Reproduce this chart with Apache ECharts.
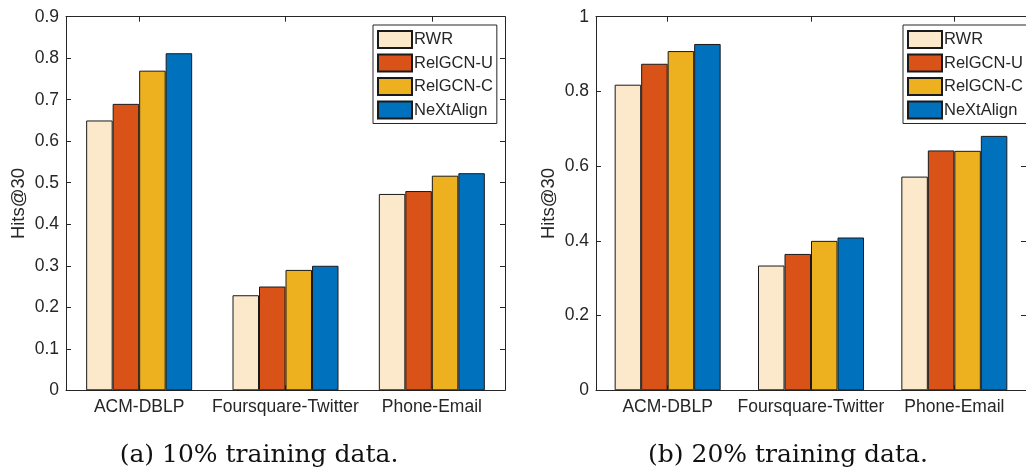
<!DOCTYPE html>
<html>
<head>
<meta charset="utf-8">
<script src="https://cdn.jsdelivr.net/npm/echarts@6/dist/echarts.min.js"></script>
<style>html,body{margin:0;padding:0;background:#fff}#c{width:1026px;height:467px}</style>
</head>
<body>
<div id="c"></div>
<script>
const categories = ['ACM-DBLP', 'Foursquare-Twitter', 'Phone-Email'];
const methods = ['RWR', 'RelGCN-U', 'RelGCN-C', 'NeXtAlign'];
// (a) 10% training data
const rwr10 = [0.65, 0.229, 0.473];
const relgcnU10 = [0.69, 0.25, 0.48];
const relgcnC10 = [0.77, 0.29, 0.517];
const nextalign10 = [0.812, 0.30, 0.523];
// (b) 20% training data
const rwr20 = [0.818, 0.334, 0.572];
const relgcnU20 = [0.874, 0.365, 0.642];
const relgcnC20 = [0.908, 0.40, 0.641];
const nextalign20 = [0.927, 0.409, 0.681];
const captions = ['(a) 10% training data.', '(b) 20% training data.'];

const colors = ['#FCE9CB', '#D95319', '#EDB120', '#0072BD'];
const axisColor = '#262626';
const font = '"Liberation Sans", Arial, Helvetica, sans-serif';

const chart = echarts.init(document.getElementById('c'));
const grids = [
  {left: 66, top: 16.7, width: 439, height: 373.6},
  {left: 596, top: 16.7, width: 439, height: 373.6}
];
function xAxes(gi) {
  const base = {type: 'category', data: categories, gridIndex: gi, boundaryGap: true,
    axisLine: {onZero: false, lineStyle: {color: axisColor, width: 1}},
    axisTick: {show: true, inside: true, length: 5, alignWithLabel: true, interval: 0, lineStyle: {color: axisColor}},
    splitLine: {show: false}};
  return [
    Object.assign({}, base, {position: 'bottom',
      axisLabel: {color: axisColor, fontSize: 17.5, fontFamily: font, margin: 8, interval: 0, hideOverlap: false}}),
    Object.assign({}, base, {position: 'top', axisLabel: {show: false}})
  ];
}
function yAxes(gi, max, interval) {
  const base = {type: 'value', gridIndex: gi, min: 0, max: max, interval: interval,
    axisLine: {show: true, onZero: false, lineStyle: {color: axisColor, width: 1}},
    axisTick: {show: true, inside: true, length: 5, lineStyle: {color: axisColor}},
    splitLine: {show: false}};
  return [
    Object.assign({}, base, {position: 'left', name: 'Hits@30', nameLocation: 'middle',
      nameGap: 38, nameRotate: 90,
      nameTextStyle: {color: axisColor, fontSize: 18.5, fontFamily: font},
      axisLabel: {color: axisColor, fontSize: 17.5, fontFamily: font, margin: 7,
        formatter: v => String(Math.round(v * 10) / 10)}}),
    Object.assign({}, base, {position: 'right', axisLabel: {show: false}})
  ];
}
const data10 = [rwr10, relgcnU10, relgcnC10, nextalign10];
const data20 = [rwr20, relgcnU20, relgcnC20, nextalign20];
const series = [];
[data10, data20].forEach((set, gi) => {
  set.forEach((vals, i) => {
    series.push({
      type: 'bar', name: methods[i], data: vals,
      xAxisIndex: gi * 2, yAxisIndex: gi * 2,
      barWidth: 26.5, barGap: '0%',
      itemStyle: {color: colors[i], borderColor: '#1a1a1a', borderWidth: 1},
      emphasis: {disabled: true}
    });
  });
});
function legend(left) {
  return {
    data: methods.map(n => ({name: n, icon: 'rect'})), orient: 'vertical', left: left, top: 25,
    itemWidth: 34, itemHeight: 17, itemGap: 4.5,
    padding: [5, 4, 4, 4],
    borderColor: axisColor, borderWidth: 1, backgroundColor: '#fff',
    selectedMode: false,
    textStyle: {color: axisColor, fontSize: 16.5, fontFamily: font, padding: [0, 0, 0, -3]}
  };
}
chart.setOption({
  animation: false,
  grid: grids,
  xAxis: xAxes(0).concat(xAxes(1)),
  yAxis: yAxes(0, 0.9, 0.1).concat(yAxes(1, 1, 0.2)),
  legend: [legend(373), legend(903)],
  series: series,
  graphic: [
    {type: 'text', x: 259, y: 443, style: {text: captions[0], fill: '#111',
      font: '25px "DejaVu Serif", serif', textAlign: 'center', textVerticalAlign: 'top'}},
    {type: 'text', x: 788, y: 443, style: {text: captions[1], fill: '#111',
      font: '25px "DejaVu Serif", serif', textAlign: 'center', textVerticalAlign: 'top'}}
  ]
});
</script>
</body>
</html>
